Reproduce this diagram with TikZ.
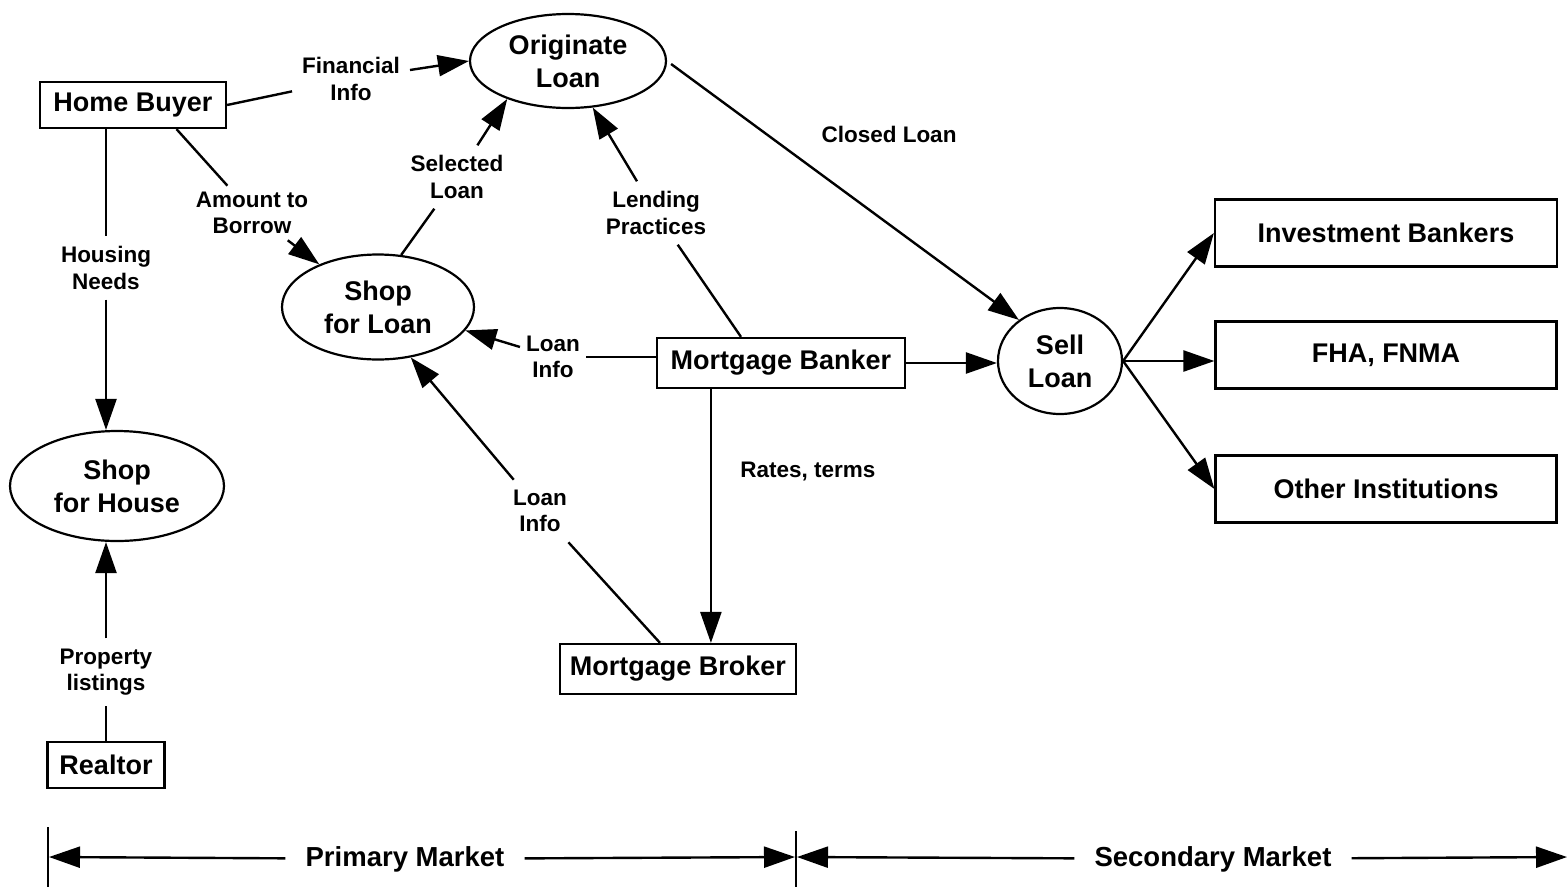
\documentclass[tikz,border=0pt]{standalone}
\usepackage{fontspec}
\setmainfont{Liberation Sans}
\usetikzlibrary{arrows.meta,shapes.geometric,calc}

\newcommand{\nodefont}{\fontsize{27}{33}\selectfont\bfseries}
\newcommand{\lblfont}{\fontsize{22.5}{26.5}\selectfont\bfseries}
\newcommand{\mktfont}{\fontsize{27.5}{30}\selectfont\bfseries}

\tikzset{
  box/.style={draw, line width=2.2pt, rectangle, inner sep=0pt, font=\nodefont},
  oval/.style={draw, line width=2.2pt, ellipse, inner sep=0pt, align=center, font=\nodefont},
  lbl/.style={align=center, font=\lblfont, inner sep=6pt},
  mkt/.style={font=\mktfont, inner ysep=4pt, inner xsep=20pt},
  ln/.style={line width=2.4pt},
  arr/.style={-{Triangle[length=31pt,width=21pt]}},
  mark line/.style={line width=2pt}
}

\begin{document}
\begin{tikzpicture}[x=1pt,y=-1pt]
\useasboundingbox (0,0) rectangle (1568,887);

% processes and parties
\node[box, minimum width=186pt, minimum height=46pt] (hb) at (133,105) {Home Buyer};
\node[oval, minimum width=196pt, minimum height=94pt] (orig) at (568,61) {Originate\\Loan};
\node[oval, minimum width=192pt, minimum height=105pt] (shoploan) at (378,307) {Shop\\for Loan};
\node[oval, minimum width=214pt, minimum height=110pt] (shophouse) at (117,486) {Shop\\for House};
\node[box, minimum width=117pt, minimum height=46pt] (realtor) at (106,765) {Realtor};
\node[box, minimum width=248pt, minimum height=50pt] (banker) at (781,363) {Mortgage Banker};
\node[box, minimum width=236pt, minimum height=50pt] (broker) at (678,669) {Mortgage Broker};
\node[oval, minimum width=124pt, minimum height=106pt] (sell) at (1060,361) {Sell\\Loan};
\node[box, minimum width=342pt, minimum height=67pt] (inv) at (1386,233) {Investment Bankers};
\node[box, minimum width=341pt, minimum height=67pt] (fha) at (1386,355) {FHA, FNMA};
\node[box, minimum width=341pt, minimum height=67pt] (other) at (1386,489) {Other Institutions};

% flow labels
\node[lbl, inner xsep=10pt] (lFin) at (351,79) {Financial\\Info};
\node[lbl] (lAmt) at (252,213) {Amount to\\Borrow};
\node[lbl, inner ysep=10pt] (lHouse) at (106,268) {Housing\\Needs};
\node[lbl, inner ysep=10pt] (lProp) at (106,672) {Property\\listings};
\node[lbl, inner ysep=10pt] (lSel) at (457,177) {Selected\\Loan};
\node[lbl, inner ysep=10pt] (lLend) at (656,213) {Lending\\Practices};
\node[lbl] (lInfoA) at (553,357) {Loan\\Info};
\node[lbl, inner ysep=10pt] (lInfoB) at (540,511) {Loan\\Info};
\node[lbl] (lClosed) at (889,134) {Closed Loan};
\node[lbl] (lRates) at (808,471) {Rates, terms};

% flows
\draw[ln] (hb.east) -- (lFin);
\draw[ln,arr] (lFin) -- (orig.west);
\draw[ln] (hb.-29) -- (lAmt);
\draw[ln,arr] (lAmt) -- (shoploan.144);
\draw[ln] (hb.south -| lHouse) -- (lHouse);
\draw[ln,arr] (lHouse) -- (lHouse |- shophouse.north);
\draw[ln] (realtor.north -| lProp) -- (lProp);
\draw[ln,arr] (lProp) -- (lProp |- shophouse.south);
\draw[ln] (shoploan.66) -- (lSel);
\draw[ln,arr] (lSel) -- (orig.-148);
\draw[ln] ($(banker.north)+(-40,0)$) -- (lLend);
\draw[ln,arr] (lLend) -- (orig.-62);
\draw[ln] (banker.west |- lInfoA) -- (lInfoA);
\draw[ln,arr] (lInfoA) -- (shoploan.-15);
\draw[ln] ($(broker.north)+(-18,0)$) -- (lInfoB);
\draw[ln,arr] (lInfoB) -- (shoploan.-57);
\draw[ln,arr] ($(orig.east)+(4,3)$) -- (sell.135);
\draw[ln,arr] ($(banker.south west)+(55,0)$) -- ($(broker.north west)+(152,0)$);
\draw[ln,arr] (banker.east) -- (banker.east -| sell.west);
\draw[ln,arr] (sell.east) -- (inv.west);
\draw[ln,arr] (sell.east) -- (sell.east -| fha.west);
\draw[ln,arr] (sell.east) -- (other.west);

% market ranges
\coordinate (mL) at (49,857);
\coordinate (mM) at (796,857);
\coordinate (mR) at (1567,857);
\coordinate (mLtop) at (48,827);
\coordinate (mLbot) at (48,887);
\coordinate (mMtop) at (796,831);
\coordinate (mMbot) at (796,887);
\draw[mark line] (mLtop) -- (mLbot);
\draw[mark line] (mMtop) -- (mMbot);
\node[mkt] (prim) at (405,859) {Primary Market};
\node[mkt] (sec) at (1213,859) {Secondary Market};
\draw[ln,arr] (prim) -- (mL);
\draw[ln,arr] (prim) -- ($(mM)+(-1,0)$);
\draw[ln,arr] (sec) -- ($(mM)+(1,0)$);
\draw[ln,arr] (sec) -- (mR);
\end{tikzpicture}
\end{document}
